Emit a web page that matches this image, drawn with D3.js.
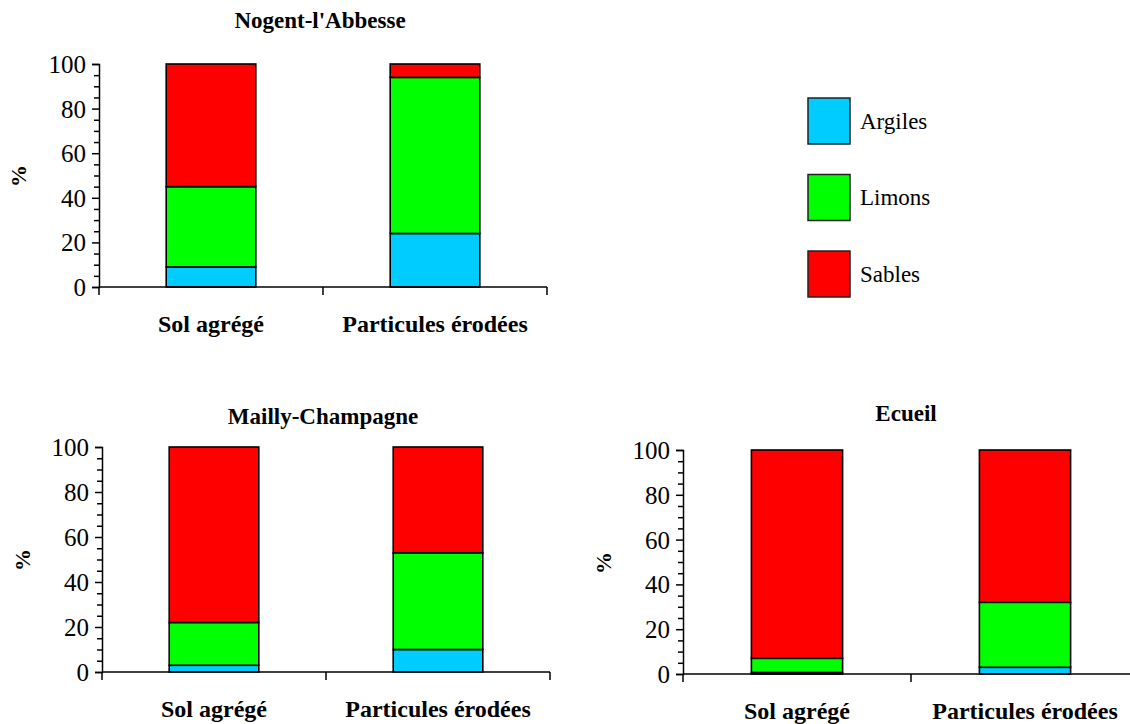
<!DOCTYPE html>
<html>
<head>
<meta charset="utf-8">
<script src="https://cdn.jsdelivr.net/npm/d3@7"></script>
</head>
<body style="margin:0;background:#fff">
<svg id="chart" width="1130" height="724"></svg>
<script>
// ---- data ----
const categories = ["Sol agrégé", "Particules érodées"];
const seriesNames = ["Argiles", "Limons", "Sables"];
const seriesColors = ["#00CCFF", "#00FF00", "#FF0000"];
const yTicks = [0, 20, 40, 60, 80, 100];

const nogentArgiles = [9, 24];
const nogentLimons = [36, 70];
const nogentSables = [55, 6];

const maillyArgiles = [3, 10];
const maillyLimons = [19, 43];
const maillySables = [78, 47];

const ecueilArgiles = [0.7, 3];
const ecueilLimons = [6.3, 29];
const ecueilSables = [93, 68];

const panelTitles = ["Nogent-l'Abbesse", "Mailly-Champagne", "Ecueil"];

const FONT = "Liberation Serif";
function serif(sel) {
  return sel.attr("font-family", FONT).style("font-family", "'Liberation Serif'").attr("fill", "#000");
}

// ---- layout ----
const panels = [
  { title: panelTitles[0], data: [nogentArgiles, nogentLimons, nogentSables],
    x0: 99, x1: 547, y0: 287, y1: 64, titleX: 320, titleY: 28, labelY: 332, pctX: 18, pctY: 176 },
  { title: panelTitles[1], data: [maillyArgiles, maillyLimons, maillySables],
    x0: 102, x1: 550, y0: 672, y1: 447, titleX: 323, titleY: 424, labelY: 717, pctX: 22, pctY: 560 },
  { title: panelTitles[2], data: [ecueilArgiles, ecueilLimons, ecueilSables],
    x0: 683, x1: 1139, y0: 674, y1: 450, titleX: 906, titleY: 421, labelY: 719, pctX: 603, pctY: 563 }
];

const svg = d3.select("#chart");

panels.forEach(p => {
  const g = svg.append("g");
  const x = d3.scaleBand().domain(categories).range([p.x0, p.x1]).paddingInner(0).paddingOuter(0);
  const y = d3.scaleLinear().domain([0, 100]).range([p.y0, p.y1]);

  const rows = categories.map((c, i) => {
    const r = { cat: c };
    seriesNames.forEach((s, k) => r[s] = p.data[k][i]);
    return r;
  });
  const stacked = d3.stack().keys(seriesNames)(rows);
  const bw = x.bandwidth() * 0.4;

  stacked.forEach((layer, k) => {
    g.selectAll(null).data(layer).enter().append("rect")
      .attr("x", d => x(d.data.cat) + (x.bandwidth() - bw) / 2)
      .attr("y", d => y(d[1]))
      .attr("width", bw)
      .attr("height", d => y(d[0]) - y(d[1]))
      .attr("fill", seriesColors[k])
      .attr("stroke", "#000")
      .attr("stroke-width", 1.6);
  });

  // y axis: minor ticks
  const minor = d3.range(0, 101, 5).filter(v => v % 20 !== 0);
  const yMinor = d3.axisLeft(y).tickValues(minor).tickSize(5).tickFormat("");
  const gm = g.append("g").attr("transform", `translate(${p.x0},0)`).call(yMinor);
  gm.select(".domain").remove();
  gm.selectAll("line").attr("stroke", "#000").attr("stroke-width", 1.5);

  const yAxis = d3.axisLeft(y).tickValues(yTicks).tickSize(7).tickPadding(6).tickFormat(d3.format("d"));
  const ga = g.append("g").attr("transform", `translate(${p.x0},0)`).call(yAxis);
  ga.attr("font-family", FONT).attr("font-size", 25);
  ga.select(".domain").attr("stroke", "#000").attr("stroke-width", 1.5);
  ga.selectAll("line").attr("stroke", "#000").attr("stroke-width", 1.5);
  serif(ga.selectAll("text")).attr("font-size", 25).attr("dy", "0.34em");

  // x axis with boundary ticks
  const xa = g.append("g").attr("transform", `translate(0,${p.y0})`);
  xa.append("line").attr("x1", p.x0).attr("x2", p.x1).attr("y1", 0).attr("y2", 0)
    .attr("stroke", "#000").attr("stroke-width", 1.5);
  const bounds = categories.map(c => x(c)).concat([x(categories[categories.length - 1]) + x.bandwidth()]);
  xa.selectAll(null).data(bounds).enter().append("line")
    .attr("x1", d => d).attr("x2", d => d).attr("y1", 0).attr("y2", 8)
    .attr("stroke", "#000").attr("stroke-width", 1.5);

  serif(g.selectAll(null).data(categories).enter().append("text"))
    .attr("x", d => x(d) + x.bandwidth() / 2)
    .attr("y", p.labelY)
    .attr("text-anchor", "middle")
    .attr("font-size", 24).attr("font-weight", "bold")
    .text(d => d);

  serif(g.append("text")).attr("x", p.titleX).attr("y", p.titleY).attr("text-anchor", "middle")
    .attr("font-size", 23).attr("font-weight", "bold").text(p.title);

  serif(g.append("text")).attr("transform", `translate(${p.pctX},${p.pctY}) rotate(-90)`)
    .attr("text-anchor", "middle").attr("dy", "0.35em")
    .attr("font-size", 22).attr("font-weight", "bold").text("%");
});

// legend
const legendY = d3.scalePoint().domain(seriesNames).range([121, 274]);
const lg = svg.append("g");
seriesNames.forEach((s, k) => {
  lg.append("rect").attr("x", 808).attr("y", legendY(s) - 23).attr("width", 42).attr("height", 46)
    .attr("fill", seriesColors[k]).attr("stroke", "#222").attr("stroke-width", 1.5);
  serif(lg.append("text")).attr("x", 860).attr("y", legendY(s)).attr("dy", "0.33em")
    .attr("font-size", 23).text(s);
});
</script>
</body>
</html>
